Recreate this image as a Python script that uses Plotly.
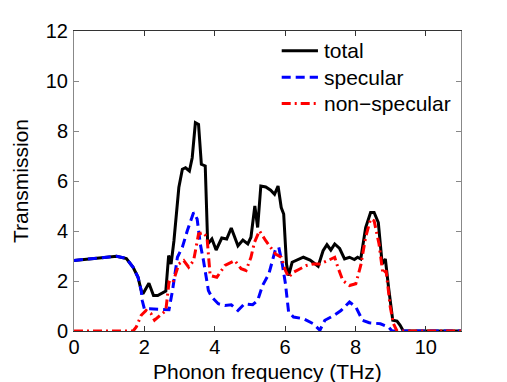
import plotly.graph_objects as go

# total transmission
freq_total = [0, 1.21, 1.49, 1.68, 1.82, 1.91, 1.96, 2.13, 2.26, 2.38, 2.61, 2.69, 2.76, 2.84,
              2.98, 3.08, 3.17, 3.28, 3.36, 3.45, 3.54, 3.62, 3.73, 3.80, 3.92, 4.04, 4.2, 4.34,
              4.47, 4.66, 4.8, 4.94, 5.03, 5.14, 5.22, 5.31, 5.45, 5.59, 5.7, 5.8, 5.89, 5.96,
              6.04, 6.1, 6.2, 6.34, 6.52, 6.71, 6.94, 7.08, 7.19, 7.3, 7.41, 7.55, 7.69, 7.83,
              7.97, 8.06, 8.15, 8.29, 8.43, 8.53, 8.65, 8.76, 8.85, 8.94, 9.06, 9.18, 9.27,
              9.36, 11]
total = [2.82, 2.99, 2.9, 2.55, 2.15, 1.62, 1.49, 1.91, 1.42, 1.42, 1.6, 3.02, 2.68, 3.6,
         5.74, 6.47, 6.53, 6.4, 6.93, 8.33, 8.26, 6.67, 6.6, 3.48, 3.68, 3.24, 3.72, 3.68,
         4.12, 3.41, 3.64, 3.48, 3.75, 5.0, 4.14, 5.8, 5.76, 5.63, 5.47, 5.8, 4.94, 4.68,
         2.68, 2.22, 2.75, 2.84, 2.95, 2.84, 2.59, 3.21, 3.45, 3.24, 3.48, 3.3, 2.88, 2.95,
         2.86, 2.95, 2.88, 4.14, 4.74, 4.74, 4.34, 2.68, 2.88, 1.75, 0.43, 0.4, 0.23,
         0, 0]

# specular part
freq_spec = [0, 1.21, 1.49, 1.68, 1.82, 1.91, 1.94, 2.0, 2.15, 2.52, 2.7, 2.8, 2.94, 3.08,
             3.22, 3.4, 3.5, 3.59, 3.68, 3.82, 3.92, 4.1, 4.29, 4.47, 4.66, 4.85, 5.08, 5.22,
             5.36, 5.54, 5.73, 5.82, 5.92, 6.01, 6.1, 6.24, 6.52, 6.8, 6.99, 7.13, 7.36, 7.59,
             7.83, 8.01, 8.2, 8.39, 8.71, 8.94, 9.04, 11]
specular = [2.82, 2.99, 2.9, 2.55, 2.15, 1.62, 1.22, 0.89, 0.89, 0.85, 0.85, 1.62, 2.95, 3.35,
            4.01, 4.74, 4.48, 3.48, 2.82, 1.62, 1.35, 1.09, 1.02, 1.05, 0.82, 1.09, 1.05, 1.22,
            1.82, 2.29, 3.28, 3.35, 2.68, 1.89, 0.76, 0.56, 0.49, 0.29, 0.03, 0.43, 0.6, 0.82,
            1.16, 0.96, 0.43, 0.33, 0.29, 0.16, 0, 0]

# non-specular part
freq_nonspec = [0, 1.68, 1.77, 1.91, 2.05, 2.19, 2.29, 2.47, 2.61, 2.7, 2.8, 2.98, 3.12, 3.26,
                3.4, 3.54, 3.68, 3.78, 3.87, 4.06, 4.29, 4.57, 4.75, 4.89, 5.03, 5.13, 5.27,
                5.45, 5.59, 5.73, 5.89, 6.01, 6.1, 6.24, 6.43, 6.61, 6.8, 6.99, 7.22, 7.41,
                7.5, 7.64, 7.83, 8.01, 8.15, 8.29, 8.43, 8.53, 8.67, 8.78, 8.87, 8.99, 9.08,
                9.18, 11]
nonspecular = [0, 0, 0.16, 0.63, 0.82, 0.69, 0.43, 0.63, 0.82, 1.95, 1.89, 2.68, 2.82, 2.55,
               2.82, 3.88, 3.94, 3.75, 2.22, 2.15, 2.62, 2.82, 2.49, 2.42, 2.95, 3.55, 4.01,
               3.61, 3.35, 3.08, 2.95, 2.42, 2.15, 2.35, 2.49, 2.62, 2.68, 2.68, 2.82, 2.95,
               2.55, 2.02, 1.82, 1.89, 2.62, 3.75, 4.48, 4.41, 3.48, 2.29, 2.42, 0.96, 0.29,
               0, 0]

series_names = ["total", "specular", "non\u2212specular"]
series_colors = ["black", "blue", "red"]
series_dash = ["solid", "9px,5px", "9px,4px,2px,4px"]

font = "Liberation Sans, Arial, sans-serif"

# the page body has an 8px margin, so the figure is 8px smaller than the window
OFF = 8
W, H = 507 - OFF, 382 - OFF
L, R, T, B = 66 - OFF, 46, 29 - OFF, 51
pw, ph = W - L - R, H - T - B

# helpers: window pixel -> paper coords (for the matlab-like legend and x title)
def px_x(x):
    return (x - OFF - L) / pw

def px_y(y):
    return (H - B - (y - OFF)) / ph

fig = go.Figure()
for xs, ys, name, color, dash in zip([freq_total, freq_spec, freq_nonspec],
                                     [total, specular, nonspecular],
                                     series_names, series_colors, series_dash):
    fig.add_trace(go.Scatter(x=xs, y=ys, mode="lines", name=name,
                             line=dict(color=color, width=3, dash=dash)))

# matlab style legend: short line sample + label
for i, (name, color, dash) in enumerate(zip(series_names, series_colors, series_dash)):
    ypos = 49 + i * 26.5
    fig.add_shape(type="line", xref="paper", yref="paper",
                  x0=px_x(278), x1=px_x(315), y0=px_y(ypos), y1=px_y(ypos),
                  line=dict(color=color, width=3, dash=dash))
    fig.add_annotation(text=name, xref="paper", yref="paper", x=px_x(319), y=px_y(ypos),
                       xanchor="left", yanchor="middle", showarrow=False,
                       font=dict(family=font, size=21, color="black"))

fig.add_annotation(text="Phonon frequency (THz)", xref="paper", yref="paper",
                   x=0.5, y=px_y(372), xanchor="center", yanchor="middle", showarrow=False,
                   font=dict(family=font, size=21, color="black"))

def axis_style(color):
    return dict(
        showline=True, linecolor=color, linewidth=1, mirror="ticks",
        ticks="inside", ticklen=5, tickcolor=color,
        showgrid=False, zeroline=False,
        tickfont=dict(family=font, size=20, color="black"),
    )

fig.update_xaxes(range=[0, 11], dtick=2, tick0=0, ticklabelstandoff=-2,
                 **axis_style("#333333"))
fig.update_yaxes(range=[0, 12], dtick=2, tick0=0, ticklabelstandoff=1,
                 title=dict(text="Transmission", font=dict(family=font, size=21, color="black"),
                            standoff=11),
                 **axis_style("#888888"))

fig.update_layout(
    width=W, height=H,
    margin=dict(l=L, r=R, t=T, b=B),
    plot_bgcolor="white", paper_bgcolor="white",
    font=dict(family=font, size=20, color="black"),
    showlegend=False,
)

fig.write_html("out.html")
